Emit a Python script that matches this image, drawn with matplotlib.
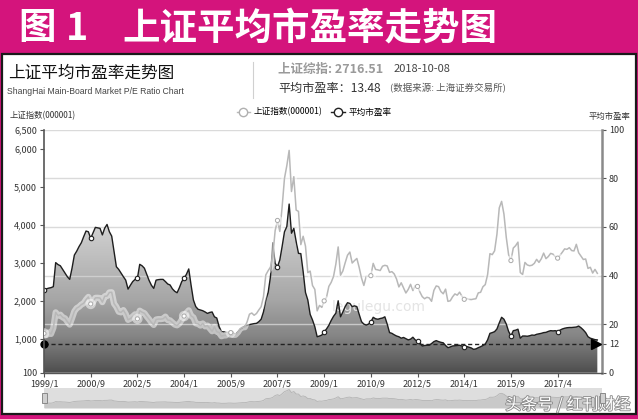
import numpy as np
import matplotlib
matplotlib.use("Agg")
import matplotlib.pyplot as plt
from matplotlib.colors import LinearSegmentedColormap
from matplotlib.patches import Rectangle, Polygon
from matplotlib.lines import Line2D
import matplotlib.patheffects as pe_fx
from matplotlib import font_manager

plt.rcParams['font.family'] = ['Noto Sans CJK SC', 'DejaVu Sans']

# ---- data (monthly, 1999/1 .. 2018/10) ----
sh_index = [
    1135, 1090, 1158, 1121, 1279, 1689, 1601, 1627, 1557, 1532, 1443, 1367,
    1535, 1715, 1800, 1836, 1895, 1928, 2024, 2096, 1910, 1961, 2071, 2073,
    2066, 1959, 2113, 2119, 2214, 2218, 1920, 1834, 1707, 1689, 1748, 1646,
    1492, 1525, 1581, 1637, 1518, 1733, 1694, 1667, 1582, 1507, 1422, 1358,
    1500, 1512, 1511, 1521, 1576, 1486, 1477, 1421, 1367, 1348, 1397, 1497,
    1591, 1675, 1742, 1596, 1556, 1399, 1386, 1342, 1397, 1321, 1341, 1267,
    1192, 1306, 1181, 1159, 1061, 1081, 1083, 1163, 1156, 1093, 1099, 1161,
    1258, 1299, 1298, 1440, 1641, 1672, 1613, 1659, 1752, 1838, 2099, 2675,
    2786, 2881, 3184, 3841, 4110, 3821, 4471, 5219, 5552, 5955, 4872, 5262,
    4383, 4349, 3473, 3693, 3433, 2736, 2776, 2397, 2294, 1729, 1871, 1821,
    1991, 2083, 2373, 2478, 2633, 2959, 3412, 2668, 2779, 2996, 3195, 3277,
    2989, 3052, 3109, 2871, 2592, 2398, 2638, 2639, 2656, 2979, 2820, 2808,
    2791, 2905, 2928, 2912, 2743, 2762, 2702, 2567, 2359, 2468, 2333, 2199,
    2293, 2428, 2263, 2396, 2372, 2225, 2104, 2048, 2086, 2069, 1980, 2269,
    2385, 2366, 2237, 2178, 2301, 1979, 1994, 2098, 2175, 2142, 2221, 2116,
    2033, 2056, 2033, 2026, 2039, 2048, 2202, 2217, 2364, 2420, 2683, 3235,
    3210, 3310, 3748, 4442, 4612, 4277, 3664, 3206, 3053, 3383, 3445, 3539,
    2738, 2688, 3004, 2938, 2917, 2930, 2979, 3085, 3005, 3100, 3250, 3104,
    3159, 3242, 3223, 3155, 3117, 3192, 3273, 3361, 3349, 3393, 3317, 3307,
    3481, 3259, 3169, 3082, 3095, 2847, 2876, 2725, 2821, 2717]

avg_pe = [
    34.0, 34.5, 34.8, 35.0, 35.4, 45.3, 44.5, 44.0, 42.5, 41.0, 39.5, 38.4,
    43.0, 48.4, 50.0, 51.9, 53.5, 56.0, 58.3, 58.0, 55.3, 57.5, 59.8, 59.6,
    59.4, 56.7, 59.5, 61.0, 58.0, 56.2, 50.0, 43.6, 42.5, 41.0, 39.5, 38.1,
    34.4, 36.0, 37.5, 38.4, 38.8, 44.6, 44.0, 43.0, 40.5, 38.0, 36.0, 34.7,
    38.1, 38.3, 38.4, 38.4, 37.5, 36.5, 36.1, 34.5, 33.5, 32.9, 35.0, 37.5,
    38.8, 40.5, 42.7, 36.0, 29.9, 27.2, 26.1, 25.8, 25.5, 25.0, 24.4, 24.8,
    25.0, 23.0, 22.5, 19.0, 16.9, 16.8, 16.7, 16.5, 16.5, 16.2, 15.9, 16.8,
    17.9, 18.5, 19.2, 19.5, 19.8, 20.0, 20.2, 20.3, 21.0, 22.0, 25.0, 29.9,
    33.0, 39.5, 53.5, 45.0, 43.6, 46.4, 52.0, 58.0, 60.1, 69.4, 57.4, 59.4,
    54.0, 49.1, 49.0, 41.6, 33.0, 29.9, 24.0, 21.7, 18.9, 14.8, 15.1, 15.5,
    16.8, 18.0, 19.5, 21.5, 23.2, 24.5, 29.6, 23.0, 25.0, 27.2, 28.8, 28.5,
    27.2, 27.5, 27.2, 24.0, 21.0, 20.0, 19.6, 20.0, 20.9, 22.8, 22.2, 22.0,
    22.3, 22.5, 23.0, 20.0, 16.5, 16.2, 15.6, 15.1, 14.8, 14.2, 14.5, 14.0,
    13.5, 13.8, 14.6, 13.5, 13.0, 12.3, 11.0, 11.2, 11.3, 11.3, 12.0, 12.8,
    13.2, 12.8, 12.5, 12.3, 11.2, 10.3, 10.6, 11.0, 11.1, 11.2, 11.3, 11.0,
    10.7, 10.8, 10.5, 10.2, 9.6, 9.8, 10.3, 10.7, 11.2, 11.8, 13.5, 16.2,
    16.5, 16.9, 18.0, 20.5, 22.8, 22.0, 20.0, 17.0, 15.1, 17.3, 17.5, 17.9,
    14.2, 15.1, 15.1, 15.0, 15.2, 15.5, 15.4, 15.8, 16.0, 16.2, 16.5, 16.6,
    17.0, 17.3, 17.2, 17.3, 16.9, 17.5, 18.0, 18.3, 18.5, 18.6, 18.6, 18.7,
    18.8, 19.2, 18.5, 17.6, 16.5, 14.8, 14.2, 13.9, 13.6, 13.48]

x_labels = ['1999/1', '2000/9', '2002/5', '2004/1', '2005/9', '2007/5',
            '2009/1', '2010/9', '2012/5', '2014/1', '2015/9', '2017/4']
x_tick_pos = [0, 20, 40, 60, 80, 100, 120, 140, 160, 180, 200, 220]
idx_ticks = [100, 1000, 2000, 3000, 4000, 5000, 6000, 6500]
pe_ticks = [0, 12, 20, 40, 60, 80, 100]
pe_ref = 12

months = np.arange(len(avg_pe))

W, H = 638, 419
def fx(p): return p / W
def fy(p): return 1 - p / H

MAGENTA = '#d4147c'
fig = plt.figure(figsize=(W / 100, H / 100), dpi=100, facecolor=MAGENTA)

# white card (behind the axes)
fig.patches.append(Rectangle((fx(2), fy(414)), fx(634), (414 - 54) / H,
                             transform=fig.transFigure, facecolor='white',
                             edgecolor='#1a1a1a', lw=1.6, zorder=-5))

# header
fig.text(fx(18), fy(28), '图', color='white', fontsize=27, weight='bold', va='center')
fig.text(fx(66), fy(28), '1', color='white', fontsize=27, weight='bold', va='center')
fig.text(fx(122), fy(28), '上证平均市盈率走势图', color='white', fontsize=27,
         weight='bold', va='center')

# card title block
fig.text(fx(8), fy(73), '上证平均市盈率走势图', fontsize=12, color='#111', va='center')
names = {f.name for f in font_manager.fontManager.ttflist}
sub_font = 'Liberation Sans Narrow' if 'Liberation Sans Narrow' in names else 'Liberation Sans'
fig.text(fx(7), fy(92), 'ShangHai Main-Board Market P/E Ratio Chart', fontsize=6.2,
         color='#444', va='center', family=sub_font)
fig.add_artist(Line2D([fx(253), fx(253)], [fy(62), fy(98)], color='#d0d0d0', lw=0.8))
fig.text(fx(278), fy(69), '上证综指: 2716.51', fontsize=9, color='#9a9a9a',
         weight='bold', va='center')
fig.text(fx(394), fy(69), '2018-10-08', fontsize=8, color='#444', va='center')
fig.text(fx(278), fy(88), '平均市盈率：13.48', fontsize=8.7, color='#333', va='center')
fig.text(fx(390), fy(88), '(数据来源: 上海证券交易所)', fontsize=6.8, color='#555', va='center')

fig.text(fx(10), fy(116), '上证指数(000001)', fontsize=6, color='#333', va='center')
fig.text(fx(630), fy(116), '平均市盈率', fontsize=6, color='#333', va='center', ha='right')

# ---- main chart: host axes = P/E (right scale), twin = index (left scale) ----
ax = fig.add_axes([fx(44), fy(372.7), (602 - 44) / W, (372.7 - 129.7) / H])
ax.set_facecolor('white')

cmap = LinearSegmentedColormap.from_list('pe_grad', [
    (0.0, '#4e4e4e'), (0.06, '#646464'), (0.15, '#858585'),
    (0.3, '#a6a6a6'), (0.6, '#d0d0d0'), (1.0, '#f2f2f2')])
grad = np.linspace(0, 1, 256).reshape(-1, 1)
im = ax.imshow(grad, extent=[0, 239, 0, 100], origin='lower', aspect='auto',
               cmap=cmap, zorder=1)
verts = np.vstack([[0, 0], np.column_stack([months, avg_pe]), [months[-1], 0]])
area = Polygon(verts, closed=True, facecolor='none', edgecolor='none',
               transform=ax.transData)
ax.add_patch(area)
im.set_clip_path(area)

for v in [20, 40, 60, 80, 100]:
    ax.axhline(v, color='#d4d4d4', lw=1, alpha=0.85, zorder=2)

ax.plot(months, avg_pe, color='#1e1e1e', lw=1.0, zorder=4, marker='o',
        markevery=list(range(0, len(months), 20)), ms=3.2, mfc='white',
        mec='#1e1e1e', mew=0.8)
ax.plot([0, months[-1] - 1], [pe_ref, pe_ref], color='#222', lw=1,
        dashes=(3, 2), zorder=5)
ax.plot(0, pe_ref, 'o', color='black', ms=5, zorder=6, clip_on=False)
ax.plot(months[-1] - 0.5, pe_ref, marker='>', color='black', ms=7, zorder=6)

ax.set_xlim(0, 239)
ax.set_ylim(0, 100)
ax.set_xticks(x_tick_pos)
ax.set_xticklabels(x_labels)

ax2 = ax.twinx()
# twinx moves the host ticks to the left, put them back on the right
ax.yaxis.tick_right()
ax.yaxis.set_label_position('right')
ax.set_yticks(pe_ticks)
ax.set_yticklabels([str(t) for t in pe_ticks])
ax.tick_params(axis='both', labelsize=6.5, colors='#555', length=3, width=0.8, pad=2)
for lab in ax.get_yticklabels() + ax.get_xticklabels():
    lab.set_color('#333')
ax.spines['top'].set_visible(False)
ax.spines['left'].set_visible(False)
ax.spines['right'].set_color('#8a8a8a')
ax.spines['right'].set_linewidth(1.8)
ax.spines['bottom'].set_color('#555')
ax.spines['bottom'].set_linewidth(1.0)

ax2.plot(months, sh_index, color='#b8b8b8', lw=1.1, zorder=3, marker='o',
         markevery=list(range(0, len(months), 20)), ms=3, mfc='white',
         mec='#a8a8a8', mew=0.7,
         path_effects=[pe_fx.Stroke(linewidth=4.5, foreground='white', alpha=0.5),
                       pe_fx.Normal()])
ax2.set_ylim(100, 6500)
ax2.yaxis.tick_left()
ax2.yaxis.set_label_position('left')
ax2.set_yticks(idx_ticks)
ax2.set_yticklabels([f'{t:,}' for t in idx_ticks])
ax2.tick_params(axis='y', labelsize=6.5, colors='#555', length=3, width=0.8, pad=2)
for lab in ax2.get_yticklabels():
    lab.set_color('#333')
for s in ['top', 'right', 'bottom']:
    ax2.spines[s].set_visible(False)
ax2.spines['left'].set_color('#555')
ax2.spines['left'].set_linewidth(1.2)

ax.text(0.6, 0.27, 'legulegu.com', transform=ax.transAxes, fontsize=10,
        color='#e4e4e4', ha='center', va='center', family='DejaVu Sans', zorder=2)

# legend
handles = [Line2D([], [], color='#b8b8b8', lw=1, marker='o', ms=6, mfc='white', mec='#b0b0b0'),
           Line2D([], [], color='#222', lw=1, marker='o', ms=6, mfc='white', mec='#222')]
fig.legend(handles, ['上证指数(000001)', '平均市盈率'], loc='center',
           bbox_to_anchor=(fx(314), fy(112)), ncol=2, frameon=False, fontsize=6.2,
           handlelength=1.6, columnspacing=1.0, handletextpad=0.4)

# navigator
nav = fig.add_axes([fx(44), fy(408), (602 - 44) / W, 20 / H])
nav.set_facecolor('#dedede')
nav.fill_between(months, sh_index, -600, color='#c9c9c9', lw=0)
nav.plot(months, sh_index, color='#b4b4b4', lw=0.6)
nav.set_xlim(0, 239)
nav.set_ylim(-600, 6500)
nav.set_xticks([])
nav.set_yticks([])
for s in nav.spines.values():
    s.set_visible(False)
for hx in [44, 602]:
    fig.patches.append(Rectangle((fx(hx - 2.5), fy(403)), 5 / W, 10 / H,
                                 transform=fig.transFigure, facecolor='#d0d0d0',
                                 edgecolor='#8a8a8a', lw=0.7, zorder=5))

fig.text(fx(568), fy(405), '头条号 / 红刊财经', fontsize=11.5, color='white',
         ha='center', va='center',
         path_effects=[pe_fx.withStroke(linewidth=1.3, foreground='#8c8c8c')])

fig.savefig('out.png', dpi=100, facecolor=MAGENTA)
